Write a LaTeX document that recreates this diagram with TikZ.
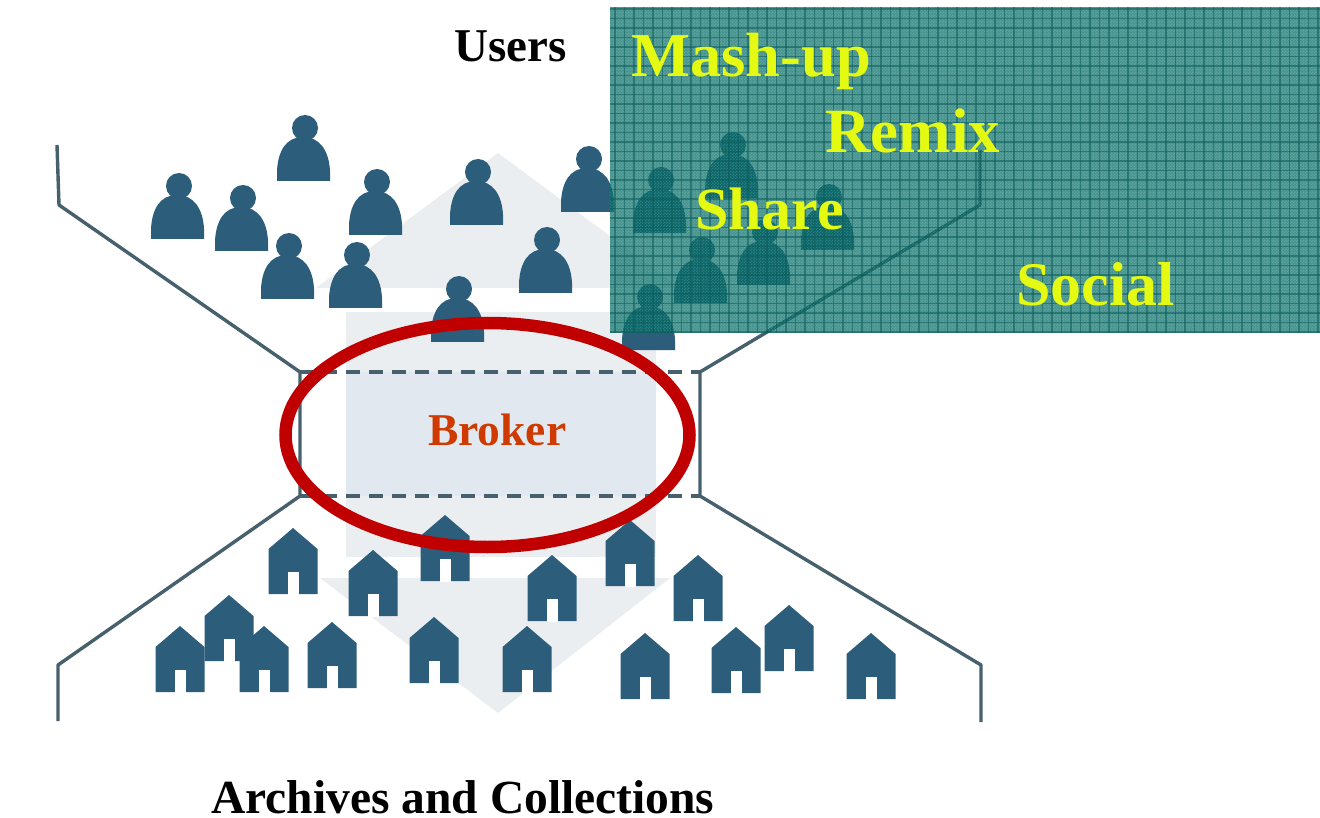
\documentclass[tikz,border=0pt]{standalone}
\usepackage{fontspec}
\setmainfont{Liberation Serif}
\usetikzlibrary{patterns}
\definecolor{figblue}{HTML}{2C5E7C}
\definecolor{pale}{HTML}{EBEEF0}
\definecolor{palebroker}{HTML}{E2E8EF}
\definecolor{funnel}{HTML}{46606E}
\definecolor{ringred}{HTML}{C00000}
\definecolor{brokerred}{HTML}{CF3A00}
\definecolor{acid}{HTML}{E4FA12}
\definecolor{tealbase}{RGB}{0,108,100}
\definecolor{tealgrid}{HTML}{0C5C5C}
\pgfdeclarepatternformonly{speckle}{\pgfqpoint{0pt}{0pt}}{\pgfqpoint{3pt}{3pt}}{\pgfqpoint{3pt}{3pt}}{%
  \pgfpathrectangle{\pgfqpoint{0pt}{0pt}}{\pgfqpoint{1.5pt}{1.5pt}}%
  \pgfpathrectangle{\pgfqpoint{1.5pt}{1.5pt}}{\pgfqpoint{1.5pt}{1.5pt}}%
  \pgfusepath{fill}}
\tikzset{
  funnelline/.style={draw=funnel,line width=3.4pt,line join=round},
  funneldash/.style={draw=funnel,line width=3.6pt,dash pattern=on 14pt off 9pt},
  txt/.style={anchor=base west,inner sep=0pt,font=\bfseries},
}
\newcommand{\figperson}[2]{%
  \fill[figblue] (#1,#2-53) circle[radius=13];
  \fill[figblue] (#1-28,#2) -- (#1-28,#2-10) .. controls (#1-27,#2-30) and (#1-19,#2-44) .. (#1-2,#2-44)
     .. controls (#1+15,#2-44) and (#1+24,#2-30) .. (#1+25,#2-10) -- (#1+25,#2) -- cycle;
}
\newcommand{\fighouse}[2]{%
  \fill[figblue] (#1,#2) -- (#1+24.5,#2+21) -- (#1+24.5,#2+66) -- (#1-24.5,#2+66) -- (#1-24.5,#2+21) -- cycle;
  \fill[white] (#1-5.5,#2+44) rectangle (#1+5.5,#2+67);
}
\begin{document}
\begin{tikzpicture}[x=1pt,y=-1pt]
\useasboundingbox (0,0) rectangle (1320,818);
\fill[white] (0,0) rectangle (1320,818);
% pale background arrows
\fill[pale] (498,153) -- (680,288) -- (316,288) -- cycle;
\fill[pale] (346,312) rectangle (656,557);
\fill[palebroker] (346,372) rectangle (656,496);
\fill[pale] (320,578) -- (670,578) -- (498,713) -- cycle;
% funnel outline
\coordinate (tl0) at (57,145);
\coordinate (tl1) at (59,205);
\coordinate (ml1) at (300,372);
\coordinate (mr1) at (700,372);
\coordinate (tr1) at (980,205);
\coordinate (tr0) at (980,150);
\coordinate (ml2) at (300,496);
\coordinate (mr2) at (700,496);
\coordinate (bl1) at (58,665);
\coordinate (bl0) at (58,721);
\coordinate (br1) at (981,665);
\coordinate (br0) at (981,722);
\draw[funnelline] (tl0) -- (tl1) -- (ml1) -- (ml2) -- (bl1) -- (bl0);
\draw[funnelline] (tr0) -- (tr1) -- (mr1) -- (mr2) -- (br1) -- (br0);
\draw[funneldash] (ml1) -- (mr1);
\draw[funneldash] (ml2) -- (mr2);
% users
\figperson{305}{181}
\figperson{179}{239}
\figperson{243}{251}
\figperson{377}{235}
\figperson{478}{225}
\figperson{589}{212}
\figperson{289}{299}
\figperson{357}{308}
\figperson{547}{293}
\figperson{459}{342}
\figperson{650}{350}
\figperson{733}{198}
\figperson{661}{233}
\figperson{829}{250}
\figperson{702}{303}
\figperson{765}{285}
% houses
\fighouse{293}{528}
\fighouse{373}{550}
\fighouse{445}{515}
\fighouse{229}{595}
\fighouse{180}{626}
\fighouse{264}{626}
\fighouse{332}{622}
\fighouse{434}{617}
\fighouse{527}{626}
\fighouse{552}{555}
\fighouse{630}{520}
\fighouse{698}{555}
\fighouse{645}{633}
\fighouse{736}{627}
\fighouse{789}{605}
\fighouse{871}{633}
% teal panel
\fill[tealbase,fill opacity=.72] (610,7) rectangle (1320,333);
\fill[pattern=speckle,pattern color=white,fill opacity=.14] (610,7) rectangle (1320,333);
\begin{scope}
\clip (610,7) rectangle (1320,333);
\foreach \gx in {0,...,74} {\draw[tealgrid,draw opacity=.55,line width=1.5pt] (615+9.5*\gx,7) -- (615+9.5*\gx,333);}
\foreach \gy in {0,...,34} {\draw[tealgrid,draw opacity=.55,line width=1.5pt] (610,9+9.5*\gy) -- (1320,9+9.5*\gy);}
\end{scope}
% ring
\draw[ringred,line width=12.5pt] (487.5,435) ellipse[x radius=202,y radius=112];
% text
\node[txt,text=brokerred,font=\bfseries\fontsize{45.5}{45.5}\selectfont] (broker) at (428,445) {Broker};
\node[txt,font=\bfseries\fontsize{47}{47}\selectfont] (users) at (454,62) {Users};
\node[txt,font=\bfseries\fontsize{47.5}{47.5}\selectfont] (archives) at (211,813) {Archives and Collections};
\node[txt,text=acid,font=\bfseries\fontsize{62.5}{62.5}\selectfont] (mash) at (631,77) {Mash-up};
\node[txt,text=acid,font=\bfseries\fontsize{63}{63}\selectfont] (remix) at (825,153) {Remix};
\node[txt,text=acid,font=\bfseries\fontsize{60}{60}\selectfont] (share) at (695,230) {Share};
\node[txt,text=acid,font=\bfseries\fontsize{62}{62}\selectfont] (social) at (1016,306) {Social};
\end{tikzpicture}
\end{document}
